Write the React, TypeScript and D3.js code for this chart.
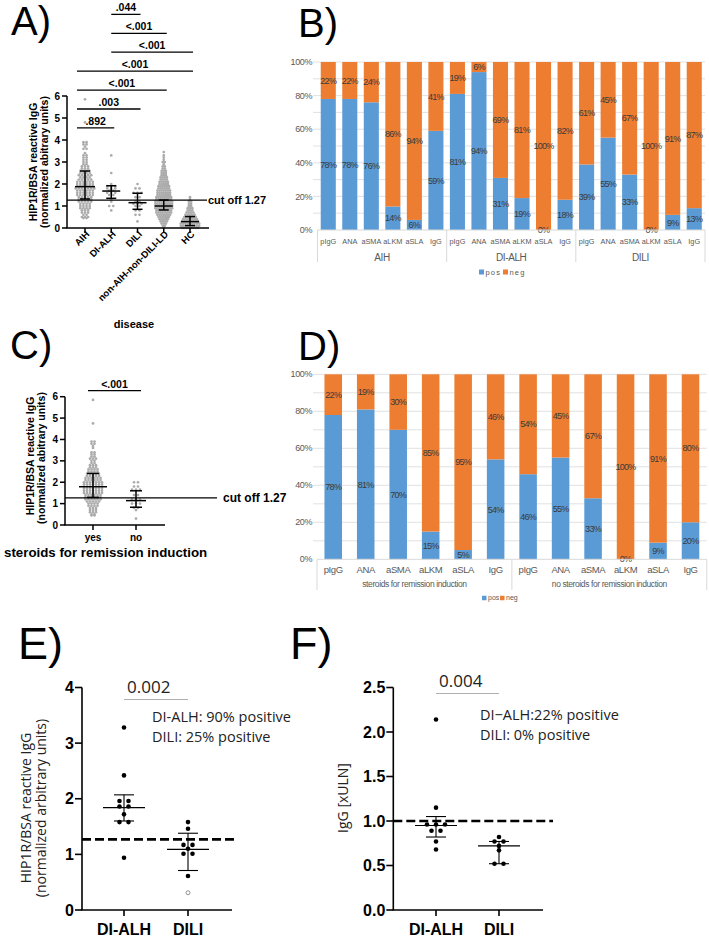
import React from "react";
import * as d3 from "d3";

const SANS = "'Liberation Sans', Arial, Helvetica, sans-serif";
const OPEN = "'Open Sans', 'Noto Sans', sans-serif";
const BLUE = "#5b9bd5";
const ORANGE = "#ed7d31";
const GRID = "#d9d9d9";
const AXIS_GRAY = "#595959";
const DOT_GRAY = "#ababab";

type Row = [number, number]; // [level, samples at that level]

// ── A) HIP1R/BSA IgG by disease ─────────────────────────────────────────────
const diseases = ["AIH", "DI-ALH", "DILI", "non-AIH-non-DILI-LD", "HC"];
const aihRows: Row[] = [
  [5.85, 1], [4.8, 1], [3.9, 2], [3.8, 2], [3.7, 1], [3.6, 2], [3.4, 1], [3.3, 2], [3.2, 2],
  [3.1, 2], [3.0, 2], [2.9, 2], [2.8, 3], [2.7, 3], [2.6, 4], [2.5, 4], [2.4, 5], [2.3, 4],
  [2.2, 5], [2.1, 6], [2.0, 6], [1.9, 6], [1.8, 7], [1.7, 6], [1.6, 6], [1.5, 6], [1.4, 5],
  [1.3, 5], [1.2, 5], [1.1, 4], [1.0, 4], [0.9, 4], [0.8, 3], [0.7, 3], [0.6, 2], [0.5, 3], [0.45, 2],
];
const dialhRows: Row[] = [
  [3.3, 1], [2.5, 1], [2.0, 1], [1.9, 3], [1.8, 3], [1.7, 2], [1.6, 3], [1.5, 2], [1.3, 1],
  [1.2, 1], [1.0, 2], [0.8, 1],
];
const diliRows: Row[] = [
  [2.0, 1], [1.8, 2], [1.6, 3], [1.4, 2], [1.2, 2], [1.1, 3], [1.0, 2], [0.8, 2], [0.6, 2], [0.3, 1],
];
const otherLdRows: Row[] = [
  [3.45, 1], [3.3, 1], [3.2, 1], [3.1, 1], [3.0, 2], [2.9, 1], [2.8, 2], [2.7, 2], [2.6, 3],
  [2.5, 3], [2.4, 3], [2.3, 4], [2.2, 4], [2.1, 5], [2.0, 5], [1.9, 6], [1.8, 6], [1.7, 7],
  [1.6, 7], [1.5, 7], [1.4, 8], [1.3, 8], [1.2, 9], [1.1, 9], [1.0, 9], [0.9, 9], [0.8, 8],
  [0.7, 8], [0.6, 7], [0.5, 6], [0.4, 5], [0.3, 4], [0.2, 3], [0.1, 2], [0.0, 1],
];
const hcRows: Row[] = [
  [1.4, 1], [1.3, 1], [1.2, 2], [1.1, 2], [1.0, 2], [0.9, 3], [0.8, 3], [0.7, 4], [0.6, 5],
  [0.5, 6], [0.4, 7], [0.3, 8], [0.2, 9], [0.1, 9], [0.0, 8],
];
const diseaseRows = [aihRows, dialhRows, diliRows, otherLdRows, hcRows];
const diseaseMedian = [1.88, 1.68, 1.15, 1.0, 0.29];
const diseaseQ1 = [1.32, 1.35, 0.85, 0.82, 0.11];
const diseaseQ3 = [2.59, 1.92, 1.58, 1.27, 0.52];
const diseaseTests = [
  { a: "AIH", b: "DI-ALH", p: ".892" },
  { a: "AIH", b: "DILI", p: ".003" },
  { a: "AIH", b: "non-AIH-non-DILI-LD", p: "<.001" },
  { a: "AIH", b: "HC", p: "<.001" },
  { a: "DI-ALH", b: "HC", p: "<.001" },
  { a: "DI-ALH", b: "non-AIH-non-DILI-LD", p: "<.001" },
  { a: "DI-ALH", b: "DILI", p: ".044" },
];
const cutoff = 1.27;

// ── C) steroids for remission induction ─────────────────────────────────────
const steroidGroups = ["yes", "no"];
const yesRows: Row[] = [
  [5.85, 1], [4.75, 1], [3.9, 2], [3.8, 2], [3.7, 1], [3.6, 1], [3.4, 2], [3.3, 2], [3.2, 2],
  [3.1, 3], [3.0, 2], [2.9, 2], [2.8, 3], [2.7, 3], [2.6, 4], [2.5, 4], [2.4, 5], [2.3, 5],
  [2.2, 6], [2.1, 6], [2.0, 7], [1.9, 7], [1.8, 7], [1.7, 7], [1.6, 7], [1.5, 7], [1.4, 6],
  [1.3, 6], [1.2, 6], [1.1, 5], [1.0, 4], [0.9, 4], [0.8, 3], [0.7, 3], [0.6, 3], [0.5, 2], [0.45, 2],
];
const noRows: Row[] = [
  [2.0, 2], [1.8, 2], [1.65, 3], [1.4, 2], [1.2, 3], [1.0, 3], [0.8, 2], [0.7, 1], [0.3, 1],
];
const steroidRows = [yesRows, noRows];
const steroidMedian = [1.79, 1.14];
const steroidQ1 = [1.29, 0.83];
const steroidQ3 = [2.41, 1.6];

// ── B) autoantibody positivity by diagnosis (%) ─────────────────────────────
const markers = ["pIgG", "ANA", "aSMA", "aLKM", "aSLA", "IgG"];
const dxGroups = ["AIH", "DI-ALH", "DILI"];
const posAih = [78, 78, 76, 14, 6, 59];
const negAih = [22, 22, 24, 86, 94, 41];
const posDialh = [81, 94, 31, 19, 0, 18];
const negDialh = [19, 6, 69, 81, 100, 82];
const posDili = [39, 55, 33, 0, 9, 13];
const negDili = [61, 45, 67, 100, 91, 87];

// ── D) positivity by steroid use (%) ────────────────────────────────────────
const steroidLabels = ["steroids for remission induction", "no steroids for remission induction"];
const posSteroid = [78, 81, 70, 15, 5, 54];
const negSteroid = [22, 19, 30, 85, 95, 46];
const posNoSteroid = [46, 55, 33, 0, 9, 20];
const negNoSteroid = [54, 45, 67, 100, 91, 80];

// ── E) HIP1R IgG, DI-ALH vs DILI ────────────────────────────────────────────
const pairGroups = ["DI-ALH", "DILI"];
const eDialh = [3.28, 2.42, 1.96, 1.96, 1.86, 1.86, 1.72, 1.58, 1.58, 0.94];
const eDili = [1.58, 1.46, 1.17, 1.17, 1.1, 1.01, 1.01, 0.61];
const eDiliExcluded = [0.31];
const eMedian = [1.84, 1.09];
const eLow = [1.6, 0.71];
const eHigh = [2.07, 1.38];
const eP = "0.002";
const eNotes = ["DI-ALH: 90% positive", "DILI: 25% positive"];

// ── F) total IgG, DI-ALH vs DILI ────────────────────────────────────────────
const fDialh = [2.14, 1.15, 0.96, 0.96, 0.96, 0.89, 0.89, 0.77, 0.68];
const fDili = [0.82, 0.77, 0.77, 0.72, 0.67, 0.52, 0.52];
const fMedian = [0.95, 0.72];
const fLow = [0.82, 0.52];
const fHigh = [1.05, 0.77];
const fP = "0.004";
const fNotes = ["DI\u2212ALH:22% positive", "DILI: 0% positive"];
const igUln = 1.0;

// spread samples sharing a level sideways
function swarm(rows: Row[], spacing: number) {
  const pts: { dx: number; v: number }[] = [];
  rows.forEach(([v, n]) => {
    for (let i = 0; i < n; i++) pts.push({ dx: (i - (n - 1) / 2) * spacing, v });
  });
  return pts;
}
const toRows = (vals: number[]): Row[] => d3.rollups(vals, (g) => g.length, (d) => d) as Row[];

function MedianBar({ cx, y, med, lo, hi, half, cap, sw = 1.5 }: any) {
  return (
    <g stroke="#000" strokeWidth={sw} fill="none">
      <line x1={cx} x2={cx} y1={y(lo)} y2={y(hi)} />
      <line x1={cx - half} x2={cx + half} y1={y(med)} y2={y(med)} />
      <line x1={cx - cap} x2={cx + cap} y1={y(lo)} y2={y(lo)} />
      <line x1={cx - cap} x2={cx + cap} y1={y(hi)} y2={y(hi)} />
    </g>
  );
}

function PanelA() {
  const y = d3.scaleLinear().domain([0, 6]).range([228, 96]);
  const x = d3.scalePoint<string>().domain(diseases).range([85, 190]);
  const spacing = [3.1, 4, 4, 2.1, 2.3];
  return (
    <g fontFamily={SANS}>
      <text x={11} y={35} fontSize={40}>A)</text>
      {/* significance brackets */}
      {diseaseTests.map((t, i) => {
        const yy = y(4.55 + i * 0.86);
        const x1 = x(t.a)! - (t.a === diseases[0] ? 8 : 0);
        const x2 = x(t.b)! + 3;
        return (
          <g key={i}>
            <line x1={x1} x2={x2} y1={yy} y2={yy} stroke="#000" strokeWidth={1.3} />
            <text x={(x1 + x2) / 2} y={yy - 3} fontSize={10.5} fontWeight="bold" textAnchor="middle">{t.p}</text>
          </g>
        );
      })}
      {diseaseRows.map((rows, gi) =>
        swarm(rows, spacing[gi]).map((p, i) => (
          <circle key={gi + "-" + i} cx={x(diseases[gi])! + p.dx} cy={y(p.v)} r={1.35} fill={DOT_GRAY} />
        ))
      )}
      <line x1={67} x2={207} y1={y(cutoff)} y2={y(cutoff)} stroke="#000" strokeWidth={1.2} />
      <text x={208} y={y(cutoff) + 4} fontSize={11} fontWeight="bold">cut off 1.27</text>
      {diseases.map((d, i) => (
        <MedianBar key={d} cx={x(d)} y={y} med={diseaseMedian[i]} lo={diseaseQ1[i]} hi={diseaseQ3[i]} half={i === 0 ? 10 : 9} cap={5} />
      ))}
      {/* axes */}
      <g stroke="#000" strokeWidth={1.5}>
        <line x1={67} x2={67} y1={y(6)} y2={y(0)} />
        <line x1={66.25} x2={209} y1={y(0)} y2={y(0)} />
        {y.ticks(6).map((t) => <line key={t} x1={62} x2={67} y1={y(t)} y2={y(t)} />)}
        {diseases.map((d) => <line key={d} x1={x(d)} x2={x(d)} y1={y(0)} y2={y(0) + 5} />)}
      </g>
      {y.ticks(6).map((t) => (
        <text key={t} x={60} y={y(t) + 3.5} fontSize={10} fontWeight="bold" textAnchor="end">{t}</text>
      ))}
      {diseases.map((d) => (
        <text key={d} transform={`translate(${x(d)! + 5},${235}) rotate(-45)`} fontSize={9.5} fontWeight="bold" textAnchor="end">{d}</text>
      ))}
      <text x={134} y={328} fontSize={11} fontWeight="bold" textAnchor="middle">disease</text>
      <g fontSize={10.5} fontWeight="bold" textAnchor="middle">
        <text transform={`translate(36.5,162) rotate(-90)`}>HIP1R/BSA reactive IgG</text>
        <text transform={`translate(48,162) rotate(-90)`}>(normalized abitrary units)</text>
      </g>
    </g>
  );
}

function PanelC() {
  const y = d3.scaleLinear().domain([0, 6]).range([525, 396.7]);
  const x = d3.scalePoint<string>().domain(steroidGroups).range([93, 136]);
  const spacing = [3, 4];
  const by = y(6.28);
  return (
    <g fontFamily={SANS}>
      <text x={10} y={359} fontSize={40}>C)</text>
      <line x1={x("yes")! - 5} x2={x("no")! + 5} y1={by} y2={by} stroke="#000" strokeWidth={1.3} />
      <text x={(x("yes")! + x("no")!) / 2} y={by - 3} fontSize={10.5} fontWeight="bold" textAnchor="middle">{"<.001"}</text>
      {steroidRows.map((rows, gi) =>
        swarm(rows, spacing[gi]).map((p, i) => (
          <circle key={gi + "-" + i} cx={x(steroidGroups[gi])! + p.dx} cy={y(p.v)} r={1.35} fill={DOT_GRAY} />
        ))
      )}
      <line x1={65} x2={217} y1={y(cutoff)} y2={y(cutoff)} stroke="#000" strokeWidth={1.2} />
      <text x={223} y={y(cutoff) + 4} fontSize={12} fontWeight="bold">cut off 1.27</text>
      {steroidGroups.map((g, i) => (
        <MedianBar key={g} cx={x(g)} y={y} med={steroidMedian[i]} lo={steroidQ1[i]} hi={steroidQ3[i]} half={i === 0 ? 14 : 10} cap={6} />
      ))}
      <g stroke="#000" strokeWidth={1.5}>
        <line x1={65} x2={65} y1={y(6)} y2={y(0)} />
        <line x1={64.25} x2={165} y1={y(0)} y2={y(0)} />
        {y.ticks(6).map((t) => <line key={t} x1={60} x2={65} y1={y(t)} y2={y(t)} />)}
        {steroidGroups.map((g) => <line key={g} x1={x(g)} x2={x(g)} y1={y(0)} y2={y(0) + 5} />)}
      </g>
      {y.ticks(6).map((t) => (
        <text key={t} x={58} y={y(t) + 3.5} fontSize={10} fontWeight="bold" textAnchor="end">{t}</text>
      ))}
      {steroidGroups.map((g) => (
        <text key={g} x={x(g)} y={541} fontSize={10} fontWeight="bold" textAnchor="middle">{g}</text>
      ))}
      <text x={4} y={557} fontSize={13.3} fontWeight="bold">steroids for remission induction</text>
      <g fontSize={10.5} fontWeight="bold" textAnchor="middle">
        <text transform={`translate(34,456) rotate(-90)`}>HIP1R/BSA reactive IgG</text>
        <text transform={`translate(45,458) rotate(-90)`}>(normalized abitrary units)</text>
      </g>
    </g>
  );
}

function StackPanel({ letter, letterY, groups, pos, neg, left, right, top, bottom, pad, catSize, catY, catSpacing, groupSize, groupY, sepEnd, legendX, legendY, legendSize, spaced }: any) {
  const n = groups.length * markers.length;
  const x = d3.scaleBand<number>().domain(d3.range(n)).range([left, right]).paddingInner(pad).paddingOuter(pad / 2);
  const y = d3.scaleLinear().domain([0, 100]).range([bottom, top]);
  const groupW = (right - left) / groups.length;
  const bars = groups.flatMap((g: string, gi: number) =>
    markers.map((m, mi) => ({ i: gi * markers.length + mi, m, p: pos[gi][mi], q: neg[gi][mi] }))
  );
  const ls = spaced ? 1.2 : 0;
  return (
    <g fontFamily={SANS}>
      <text x={298} y={letterY} fontSize={40}>{letter}</text>
      {d3.range(10, 101, 10).map((t) => (
        <line key={t} x1={313} x2={right} y1={y(t)} y2={y(t)} stroke={GRID} strokeWidth={0.8} />
      ))}
      {d3.range(0, 101, 20).map((t) => (
        <text key={t} x={312} y={y(t)} dy="0.35em" fontSize={9} fill={AXIS_GRAY} textAnchor="end" letterSpacing={-0.4}>{t + "%"}</text>
      ))}
      {bars.map((b: any) => (
        <g key={b.i}>
          <rect x={x(b.i)} width={x.bandwidth()} y={y(b.p)} height={y(0) - y(b.p)} fill={BLUE} />
          <rect x={x(b.i)} width={x.bandwidth()} y={y(100)} height={y(b.p) - y(100)} fill={ORANGE} />
        </g>
      ))}
      <g fontSize={9} fill="#3a3a3a" textAnchor="middle" letterSpacing={-0.7}>
        {bars.map((b: any) => (
          <g key={b.i}>
            <text x={x(b.i)! + x.bandwidth() / 2} y={(y(0) + y(b.p)) / 2} dy="0.35em">{b.p + "%"}</text>
            <text x={x(b.i)! + x.bandwidth() / 2} y={(y(b.p) + y(100)) / 2} dy="0.35em">{b.q + "%"}</text>
          </g>
        ))}
      </g>
      {/* category axis */}
      <line x1={left} x2={right} y1={bottom} y2={bottom} stroke={GRID} strokeWidth={1} />
      {d3.range(groups.length + 1).map((k) => (
        <line key={k} x1={left + k * groupW} x2={left + k * groupW} y1={bottom} y2={sepEnd} stroke={GRID} strokeWidth={1} />
      ))}
      {bars.map((b: any) => (
        <text key={b.i} x={x(b.i)! + x.bandwidth() / 2} y={catY} fontSize={catSize} fill={AXIS_GRAY} textAnchor="middle" letterSpacing={catSpacing}>{b.m}</text>
      ))}
      {groups.map((g: string, gi: number) => (
        <text key={g} x={left + (gi + 0.5) * groupW} y={groupY} fontSize={groupSize} fill={AXIS_GRAY} textAnchor="middle" letterSpacing={-0.4}>{g}</text>
      ))}
      {/* legend */}
      <g fontSize={legendSize + 2.5} fill={AXIS_GRAY} letterSpacing={ls}>
        <rect x={legendX} y={legendY - legendSize / 2} width={legendSize} height={legendSize} fill={BLUE} />
        <text x={legendX + legendSize + 1.5} y={legendY} dy="0.35em">pos</text>
        <rect x={legendX + (spaced ? 24 : 18)} y={legendY - legendSize / 2} width={legendSize} height={legendSize} fill={ORANGE} />
        <text x={legendX + (spaced ? 24 : 18) + legendSize + 1.5} y={legendY} dy="0.35em">neg</text>
      </g>
    </g>
  );
}

function PairPanel({ letter, letterX, series, excluded, med, lo, hi, yMax, yTicks, tickFmt, left, axisRight, cxs, cutLine, cutRight, pText, pBase, notes, notesX, notesBase, labelLines, labelXs, labelY }: any) {
  const y = d3.scaleLinear().domain([0, yMax]).range([910, 687.5]);
  const x = d3.scalePoint<string>().domain(pairGroups).range(cxs);
  return (
    <g>
      <text x={letterX} y={659} fontSize={45} fontFamily={SANS}>{letter}</text>
      {/* p value bracket */}
      <line x1={x(pairGroups[0])} x2={x(pairGroups[1])} y1={pBase + 6.5} y2={pBase + 6.5} stroke="#b0b0b0" strokeWidth={1} />
      <text x={x(pairGroups[0])! + 3} y={pBase} fontSize={17} fontFamily={OPEN} fill="#222">{pText}</text>
      <g fontSize={14.5} fontFamily={OPEN} fill="#222">
        {notes.map((t: string, i: number) => (
          <text key={i} x={notesX} y={notesBase + i * 20}>{t}</text>
        ))}
      </g>
      <line x1={left} x2={cutRight} y1={y(cutLine)} y2={y(cutLine)} stroke="#000" strokeWidth={2.6} strokeDasharray="9,4" />
      {series.map((vals: number[], gi: number) =>
        swarm(toRows(vals), 9).map((p, i) => (
          <circle key={gi + "-" + i} cx={x(pairGroups[gi])! + p.dx} cy={y(p.v)} r={2.3} fill="#000" />
        ))
      )}
      {excluded.map((v: number, i: number) => (
        <circle key={"ex" + i} cx={x(pairGroups[1])} cy={y(v)} r={2} fill="none" stroke="#888" strokeWidth={0.9} />
      ))}
      {pairGroups.map((g, i) => (
        <MedianBar key={g} cx={x(g)} y={y} med={med[i]} lo={lo[i]} hi={hi[i]} half={21} cap={10} sw={1.1} />
      ))}
      <g stroke="#000" strokeWidth={1.6}>
        <line x1={left} x2={left} y1={y(yMax)} y2={y(0)} />
        <line x1={left - 0.8} x2={axisRight} y1={y(0)} y2={y(0)} />
        {yTicks.map((t: number) => <line key={t} x1={left - 7} x2={left} y1={y(t)} y2={y(t)} />)}
        {pairGroups.map((g) => <line key={g} x1={x(g)} x2={x(g)} y1={y(0)} y2={y(0) + 6} />)}
      </g>
      <g fontFamily={SANS} fontWeight="bold" fontSize={16}>
        {yTicks.map((t: number) => (
          <text key={t} x={left - 8} y={y(t) + 5.5} textAnchor="end">{tickFmt(t)}</text>
        ))}
        {pairGroups.map((g) => (
          <text key={g} x={x(g)} y={935} textAnchor="middle">{g}</text>
        ))}
      </g>
      <g fontFamily={OPEN} fontSize={14} fill="#222" textAnchor="middle">
        {labelLines.map((t: string, i: number) => (
          <text key={i} transform={`translate(${labelXs[i]},${labelY}) rotate(-90)`}>{t}</text>
        ))}
      </g>
    </g>
  );
}

export default function App() {
  return (
    <>
      <style>{`body{margin:0;background:#fff}`}</style>
      <svg width={709} height={937} style={{ display: "block", background: "#fff" }}>
        <PanelA />
        <StackPanel
          letter="B)" letterY={37} groups={dxGroups}
          pos={[posAih, posDialh, posDili]} neg={[negAih, negDialh, negDili]}
          left={317.5} right={705} top={62} bottom={230} pad={0.3}
          catSize={7.3} catY={244} catSpacing={0} groupSize={10} groupY={261} sepEnd={262}
          legendX={479} legendY={272} legendSize={5} spaced
        />
        <PanelC />
        <StackPanel
          letter="D)" letterY={360} groups={steroidLabels}
          pos={[posSteroid, posNoSteroid]} neg={[negSteroid, negNoSteroid]}
          left={317} right={706.75} top={374.3} bottom={559.3} pad={0.46}
          catSize={9.5} catY={572.5} catSpacing={-0.4} groupSize={8.5} groupY={587} sepEnd={590}
          legendX={482} legendY={598} legendSize={4.5} spaced={false}
        />
        <PairPanel
          letter="E)" letterX={18} series={[eDialh, eDili]} excluded={eDiliExcluded}
          med={eMedian} lo={eLow} hi={eHigh} yMax={4} yTicks={[0, 1, 2, 3, 4]} tickFmt={(t: number) => String(t)}
          left={82} axisRight={232} cxs={[124, 188]} cutLine={cutoff} cutRight={235}
          pText={eP} pBase={693} notes={eNotes} notesX={152} notesBase={722}
          labelLines={["HIP1R/BSA reactive IgG", "(normalized arbitrary units)"]} labelXs={[31, 45.5]} labelY={808}
        />
        <PairPanel
          letter="F)" letterX={290} series={[fDialh, fDili]} excluded={[]}
          med={fMedian} lo={fLow} hi={fHigh} yMax={2.5} yTicks={[0, 0.5, 1, 1.5, 2, 2.5]} tickFmt={(t: number) => t.toFixed(1)}
          left={393.3} axisRight={543} cxs={[436, 499]} cutLine={igUln} cutRight={553}
          pText={fP} pBase={687} notes={fNotes} notesX={480} notesBase={720}
          labelLines={["IgG [xULN]"]} labelXs={[348]} labelY={798}
        />
      </svg>
    </>
  );
}
